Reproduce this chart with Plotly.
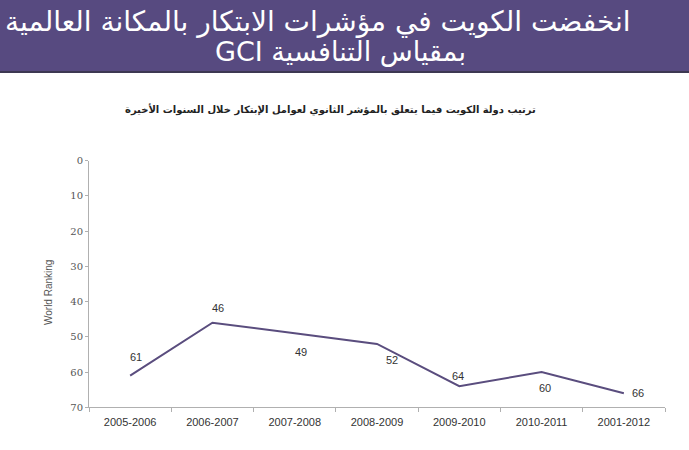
import plotly.graph_objects as go

# ---- data ----
years = ["2005-2006", "2006-2007", "2007-2008", "2008-2009", "2009-2010", "2010-2011", "2001-2012"]
ranking = [61, 46, 49, 52, 64, 60, 66]
y_ticks = [0, 10, 20, 30, 40, 50, 60, 70]

title_line1 = "انخفضت الكويت في مؤشرات الابتكار بالمكانة العالمية"
title_line2 = "\u202bبمقياس التنافسية GCI\u202c"
subtitle = "ترتيب دولة الكويت فيما يتعلق بالمؤشر الثانوي لعوامل الإبتكار خلال السنوات الأخيرة"
y_title = "World Ranking"

# ---- style: label offsets in pixels (dx right, dy down) ----
label_offsets = [(6, -19), (6, -15), (6, 19), (15, 16), (-1, -10), (3, 16), (14, 0)]

W, H = 689, 450
x0px, x1px = 89, 665
ytop, ybot = 160.7, 407.3

fig = go.Figure()
fig.add_trace(go.Scatter(
    x=years, y=ranking, mode="lines",
    line=dict(color="#5a4d7e", width=2),
    hoverinfo="skip", showlegend=False,
))

for xv, yv, (dx, dy) in zip(years, ranking, label_offsets):
    fig.add_annotation(x=xv, y=yv, xref="x", yref="y", text=str(yv), showarrow=False,
                       xshift=dx, yshift=-dy,
                       font=dict(family="Liberation Sans, Arial", size=11, color="#333333"))

# banner
fig.add_shape(type="rect", xref="paper", yref="paper", x0=0, x1=1, y0=1 - 71 / H, y1=1,
              fillcolor="#574a80", line=dict(width=0), layer="below")
fig.add_shape(type="rect", xref="paper", yref="paper", x0=0, x1=1, y0=1 - 73 / H, y1=1 - 71 / H,
              fillcolor="#3d3852", line=dict(width=0), layer="below")

fig.add_annotation(x=318 / W, y=1 - 22 / H, xref="paper", yref="paper", text=title_line1,
                   xanchor="center", yanchor="middle",
                   showarrow=False, font=dict(family="DejaVu Sans", size=28, color="white"))
fig.add_annotation(x=340 / W, y=1 - 52 / H, xref="paper", yref="paper", text=title_line2,
                   xanchor="center", yanchor="middle",
                   showarrow=False, font=dict(family="DejaVu Sans", size=27, color="white"))
fig.add_annotation(x=330 / W, y=1 - 109 / H, xref="paper", yref="paper", text="<b>" + subtitle + "</b>",
                   xanchor="center", yanchor="middle",
                   showarrow=False, font=dict(family="DejaVu Sans", size=10, color="#222222"))
fig.add_annotation(x=48 / W, y=1 - 293 / H, xref="paper", yref="paper", text=y_title, textangle=-90,
                   xanchor="center", yanchor="middle",
                   showarrow=False, font=dict(family="Liberation Sans, Arial", size=10, color="#555555"))

fig.update_layout(
    width=W, height=H,
    margin=dict(l=0, r=0, t=0, b=0),
    paper_bgcolor="white", plot_bgcolor="white",
    xaxis=dict(
        domain=[x0px / W, x1px / W],
        type="category", range=[-0.5, 6.5],
        tickson="boundaries", ticks="outside", ticklen=4, tickcolor="#b0b0b0",
        ticklabelstandoff=4,
        showline=True, linecolor="#b0b0b0", linewidth=1,
        showgrid=False, zeroline=False,
        tickfont=dict(family="Liberation Sans, Arial", size=11, color="#333333"),
        automargin=False,
    ),
    yaxis=dict(
        domain=[1 - ybot / H, 1 - ytop / H],
        range=[70, 0], tickvals=y_ticks, ticktext=[str(v) for v in y_ticks],
        ticks="outside", ticklen=3, tickcolor="#b0b0b0",
        showline=True, linecolor="#b0b0b0", linewidth=1,
        showgrid=False, zeroline=False,
        tickfont=dict(family="DejaVu Serif", size=10, color="#555555"),
        automargin=False,
    ),
)

fig.write_html("out.html")
